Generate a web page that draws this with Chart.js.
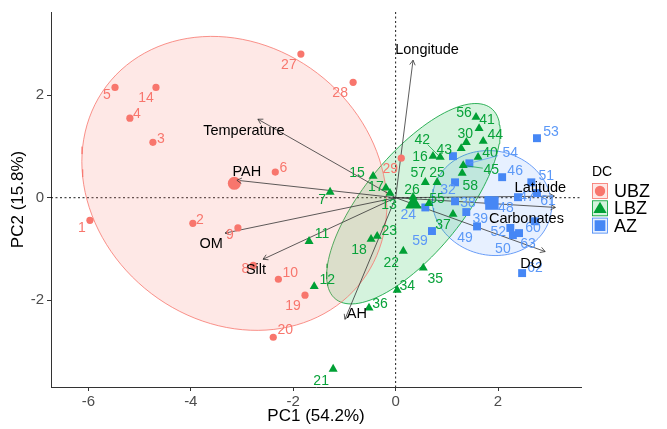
<!DOCTYPE html>
<html>
<head>
<meta charset="utf-8">
<script src="https://cdn.jsdelivr.net/npm/chart.js@4.4.1/dist/chart.umd.min.js"></script>
<style>
  html, body { margin: 0; padding: 0; background: #fff; }
  #wrap { width: 667px; height: 429px; }
</style>
</head>
<body>
<div id="wrap"><canvas id="pca"></canvas></div>
<script>
// ---- data (PC1 / PC2 scores) ----
const ubzIds = [1, 2, 3, 4, 5, 6, 8, 9, 10, 14, 19, 20, 27, 28, 29];
const ubzPC1 = [-5.97, -3.96, -4.74, -5.19, -5.48, -2.35, -2.78, -3.08, -2.29, -4.68, -1.77, -2.39, -1.85, -0.83, 0.11];
const ubzPC2 = [-0.44, -0.50, 1.08, 1.55, 2.15, 0.50, -1.32, -0.59, -1.59, 2.15, -1.90, -2.72, 2.80, 2.25, 0.77];

const lbzIds = [7, 11, 12, 13, 15, 16, 17, 18, 21, 22, 23, 25, 26, 30, 34, 35, 36, 37, 40, 41, 42, 43, 44, 45, 55, 56, 57, 58];
const lbzPC1 = [-1.28, -1.69, -1.59, -0.11, -0.44, 0.73, -0.19, -0.48, -1.22, 0.15, -0.36, 0.81, 0.34, 1.38, 0.03, 0.54, -0.52, 1.12, 1.61, 1.63, 0.87, 1.28, 1.71, 1.32, 0.65, 1.57, 0.58, 1.30];
const lbzPC2 = [0.11, -0.85, -1.73, 0.09, 0.42, 0.81, 0.19, -0.81, -3.34, -1.04, -0.75, 0.30, 0.01, 1.08, -1.80, -1.37, -2.15, -0.32, 0.79, 1.35, 0.79, 0.96, 1.10, 0.63, -0.11, 1.57, 0.30, 0.48];

const azIds = [24, 31, 32, 33, 38, 39, 46, 47, 48, 49, 50, 51, 52, 53, 54, 59, 60, 61, 62, 63];
const azPC1 = [0.58, 1.12, 1.16, 1.81, 1.16, 1.38, 2.08, 2.39, 1.88, 1.59, 2.29, 2.65, 2.24, 2.76, 1.44, 0.71, 2.72, 2.76, 2.47, 2.41];
const azPC2 = [-0.19, 0.81, 0.30, -0.05, -0.07, -0.28, 0.40, 0.01, -0.09, -0.56, -0.73, 0.30, -0.59, 1.16, 0.67, -0.65, -0.46, 0.09, -1.47, -0.69];

// variable loadings (arrow tips)
const varNames = ['Longitude', 'Temperature', 'PAH', 'OM', 'Silt', 'AH', 'Latitude', 'Carbonates', 'DO'];
const varPC1 = [0.34, -2.69, -3.10, -3.33, -2.59, -0.99, 3.10, 3.12, 2.92];
const varPC2 = [2.68, 1.53, 0.34, -0.69, -1.20, -2.37, 0.03, -0.19, -1.05];

const groupNames = ['UBZ', 'LBZ', 'AZ'];
const xTicks = [-6, -4, -2, 0, 2];
const yTicks = [-2, 0, 2];
const ellipseLevel = 0.75;

// ---- styling ----
const FONT = '"Liberation Sans", Arial, sans-serif';
const groupStyle = {
  UBZ: { point: '#F8766D', text: '#F8766D', fill: 'rgba(248,118,109,0.17)', shape: 'circle', r: 3.6, rc: 6.5 },
  LBZ: { point: '#00A035', text: '#08A23A', fill: 'rgba(0,186,56,0.17)', shape: 'triangle', r: 5.2, rc: 9.5 },
  AZ:  { point: '#4687F5', text: '#5B98F7', fill: 'rgba(97,156,255,0.15)', shape: 'rect', r: 5.6, rc: 9.5 }
};
// label placement (pixels from the point)
const labelOffset = {
  1: [-8, 7], 2: [7, -4], 3: [8, -4], 4: [7, -5], 5: [-8, 7], 6: [8, -5], 8: [-8, 3], 9: [-8, 6], 10: [12, -7],
  14: [-10, 10], 19: [-12, 10], 20: [12, -8], 27: [-12, 10], 28: [-13, 10], 29: [-11, 10],
  7: [-8, 7], 11: [13, -8], 12: [13, -7], 13: [-1, 11], 15: [-16, -4], 16: [-13, 0], 17: [-10, -2], 18: [-12, 10],
  21: [-12, 11], 22: [-12, 11], 23: [12, -6], 25: [0, -10], 26: [-1, -8], 30: [-1, -9], 34: [10, -5], 35: [12, 10],
  36: [11, -5], 37: [-10, 10], 40: [12, -5], 41: [8, -9], 42: [-18, -18], 43: [-17, 1], 44: [12, -7], 45: [28, 4],
  55: [8, -5], 56: [-12, -5], 57: [-7, -10], 58: [8, 12],
  24: [-17, 7], 32: [-7, 7], 38: [13, 1], 39: [14, 6], 46: [13, -7], 47: [9, -1], 48: [14, 5], 49: [-12, 11],
  50: [-10, 13], 51: [15, -7], 52: [-12, 3], 53: [14, -7], 54: [41, -11], 59: [-12, 9], 60: [-2, 6], 61: [11, 7],
  62: [13, -6], 63: [9, 10]
};
const varLabelOffset = {
  Longitude: [14, -11], Temperature: [-14, 11], PAH: [10, -9], OM: [-14, 10], Silt: [-7, 10],
  AH: [12, -6], Latitude: [-14, -9], Carbonates: [-29, 11], DO: [-14, 11]
};

const mean = a => a.reduce((s, v) => s + v, 0) / a.length;
const toPts = (xs, ys) => xs.map((v, i) => ({ x: v, y: ys[i] }));

// normal-theory ellipse, like stat_ellipse(type = "norm")
function ellipse(xs, ys, level) {
  const mx = mean(xs), my = mean(ys), n = xs.length;
  let sxx = 0, syy = 0, sxy = 0;
  xs.forEach((x, i) => {
    sxx += (x - mx) ** 2; syy += (ys[i] - my) ** 2; sxy += (x - mx) * (ys[i] - my);
  });
  sxx /= n - 1; syy /= n - 1; sxy /= n - 1;
  const r11 = Math.sqrt(sxx), r12 = sxy / r11, r22 = Math.sqrt(syy - r12 * r12);
  const rad = Math.sqrt(-2 * Math.log(1 - level));
  const out = [];
  for (let k = 0; k <= 120; k++) {
    const t = k / 120 * 2 * Math.PI, c = Math.cos(t), s = Math.sin(t);
    out.push({ x: mx + rad * c * r11, y: my + rad * (c * r12 + s * r22) });
  }
  return out;
}

const groups = {
  UBZ: { ids: ubzIds, xs: ubzPC1, ys: ubzPC2 },
  LBZ: { ids: lbzIds, xs: lbzPC1, ys: lbzPC2 },
  AZ:  { ids: azIds, xs: azPC1, ys: azPC2 }
};

const datasets = [];
groupNames.forEach(g => {
  const st = groupStyle[g], d = groups[g];
  datasets.push({
    label: g + ' ellipse', data: ellipse(d.xs, d.ys, ellipseLevel), showLine: true, fill: 'shape',
    backgroundColor: st.fill, borderColor: st.point, borderWidth: 0.8, pointRadius: 0, tension: 0, order: 10
  });
});
varNames.forEach((v, i) => {
  datasets.push({
    label: v, data: [{ x: 0, y: 0 }, { x: varPC1[i], y: varPC2[i] }], showLine: true,
    borderColor: '#333', borderWidth: 0.8, pointRadius: 0, order: 6
  });
});
groupNames.forEach(g => {
  const st = groupStyle[g], d = groups[g];
  datasets.push({
    label: g, data: toPts(d.xs, d.ys), pointStyle: st.shape, pointRadius: st.r,
    backgroundColor: st.point, borderColor: st.point, borderWidth: 0, order: 2
  });
  datasets.push({
    label: g + ' mean', data: [{ x: mean(d.xs), y: mean(d.ys) }], pointStyle: st.shape, pointRadius: st.rc,
    backgroundColor: st.point, borderColor: st.point, borderWidth: 0, order: 1
  });
});

const overlay = {
  id: 'overlay',
  beforeDatasetsDraw(chart) {
    const { ctx, chartArea: a, scales: { x, y } } = chart;
    ctx.save();
    ctx.strokeStyle = '#000';
    ctx.lineWidth = 0.9;
    ctx.setLineDash([2, 2.5]);
    ctx.beginPath();
    const x0 = x.getPixelForValue(0), y0 = y.getPixelForValue(0);
    ctx.moveTo(a.left, y0); ctx.lineTo(a.right, y0);
    ctx.moveTo(x0, a.top); ctx.lineTo(x0, a.bottom);
    ctx.stroke();
    ctx.restore();
  },
  afterDatasetsDraw(chart) {
    const { ctx, scales: { x, y } } = chart;
    const ox = x.getPixelForValue(0), oy = y.getPixelForValue(0);
    ctx.save();
    // arrow heads
    ctx.strokeStyle = '#333';
    ctx.lineWidth = 0.8;
    varNames.forEach((v, i) => {
      const tx = x.getPixelForValue(varPC1[i]), ty = y.getPixelForValue(varPC2[i]);
      const ang = Math.atan2(ty - oy, tx - ox), L = 5.5, w = Math.PI / 6;
      ctx.beginPath();
      ctx.moveTo(tx - L * Math.cos(ang - w), ty - L * Math.sin(ang - w));
      ctx.lineTo(tx, ty);
      ctx.lineTo(tx - L * Math.cos(ang + w), ty - L * Math.sin(ang + w));
      ctx.stroke();
    });
    // point labels
    ctx.font = '14px ' + FONT;
    ctx.textAlign = 'center';
    ctx.textBaseline = 'middle';
    groupNames.forEach(g => {
      const d = groups[g];
      ctx.fillStyle = groupStyle[g].text;
      ctx.strokeStyle = groupStyle[g].text;
      d.ids.forEach((id, i) => {
        const off = labelOffset[id];
        if (!off) return;
        const px = x.getPixelForValue(d.xs[i]), py = y.getPixelForValue(d.ys[i]);
        if (Math.hypot(off[0], off[1]) > 20) {
          ctx.lineWidth = 0.7;
          ctx.beginPath();
          ctx.moveTo(px, py);
          ctx.lineTo(px + off[0] * 0.7, py + off[1] * 0.7);
          ctx.stroke();
        }
        ctx.fillText(String(id), px + off[0], py + off[1] + 1);
      });
    });
    // variable labels
    ctx.font = '14.5px ' + FONT;
    ctx.fillStyle = '#000';
    varNames.forEach((v, i) => {
      const off = varLabelOffset[v];
      ctx.fillText(v, x.getPixelForValue(varPC1[i]) + off[0], y.getPixelForValue(varPC2[i]) + off[1] + 1);
    });
    ctx.restore();
  },
  afterDraw(chart) {
    // legend
    const { ctx } = chart;
    ctx.save();
    ctx.textBaseline = 'middle';
    ctx.textAlign = 'left';
    ctx.fillStyle = '#000';
    ctx.font = '14px ' + FONT;
    ctx.fillText('DC', 592, 172);
    groupNames.forEach((g, i) => {
      const st = groupStyle[g];
      const bx = 592, by = 183 + i * 17.3, s = 16;
      ctx.fillStyle = st.fill;
      ctx.fillRect(bx, by, s, s);
      ctx.strokeStyle = st.point;
      ctx.lineWidth = 0.8;
      ctx.strokeRect(bx + 0.5, by + 0.5, s - 1, s - 1);
      ctx.fillStyle = st.point;
      Chart.helpers.drawPoint(ctx, { pointStyle: st.shape, radius: st.rc * 0.8, rotation: 0, borderWidth: 0 },
        bx + s / 2, by + s / 2 + (st.shape === 'triangle' ? 1 : 0));
      ctx.fillStyle = '#000';
      ctx.font = '18px ' + FONT;
      ctx.fillText(g, 614, by + s / 2 + 1);
    });
    ctx.restore();
  }
};

const axisCommon = {
  type: 'linear',
  grid: { drawOnChartArea: false, drawTicks: true, tickLength: 4, color: '#333', lineWidth: 1 },
  border: { display: true, color: '#333', width: 1 }
};

new Chart(document.getElementById('pca'), {
  type: 'scatter',
  data: { datasets },
  options: {
    responsive: true,
    maintainAspectRatio: false,
    animation: false,
    events: [],
    layout: { padding: { left: 0, top: 12, right: 86, bottom: 0 } },
    plugins: { legend: { display: false }, tooltip: { enabled: false } },
    scales: {
      x: {
        ...axisCommon,
        min: -6.73, max: 3.62,
        afterBuildTicks: s => { s.ticks = xTicks.map(v => ({ value: v })); },
        afterFit: s => { s.height = 42; },
        ticks: { color: '#4d4d4d', font: { size: 15, family: FONT }, padding: 2 },
        title: { display: true, text: 'PC1 (54.2%)', color: '#000', font: { size: 17, family: FONT }, padding: { top: 0, bottom: 2 } }
      },
      y: {
        ...axisCommon,
        min: -3.69, max: 3.62,
        afterBuildTicks: s => { s.ticks = yTicks.map(v => ({ value: v })); },
        afterFit: s => { s.width = 51; },
        ticks: { color: '#4d4d4d', font: { size: 15, family: FONT }, padding: 3 },
        title: { display: true, text: 'PC2 (15.8%)', color: '#000', font: { size: 17, family: FONT }, padding: { top: 8, bottom: 0 } }
      }
    }
  },
  plugins: [overlay]
});
</script>
</body>
</html>
